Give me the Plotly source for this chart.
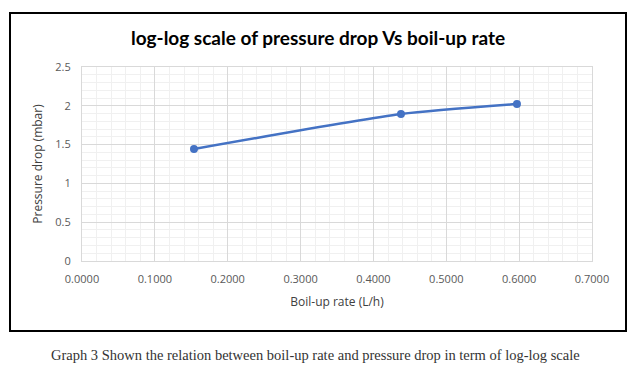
import plotly.graph_objects as go

boilup_rate = [0.1537, 0.4378, 0.5970]
pressure_drop = [1.443, 1.894, 2.023]
x_ticks = [0.0, 0.1, 0.2, 0.3, 0.4, 0.5, 0.6, 0.7]
x_tick_labels = ["0.0000", "0.1000", "0.2000", "0.3000", "0.4000", "0.5000", "0.6000", "0.7000"]
y_ticks = [0, 0.5, 1, 1.5, 2, 2.5]
y_tick_labels = ["0", "0.5", "1", "1.5", "2", "2.5"]

fig = go.Figure()
fig.add_trace(go.Scatter(
    x=boilup_rate, y=pressure_drop, mode="lines+markers",
    line=dict(color="#4472C4", width=2.5, shape="spline", smoothing=0.6),
    marker=dict(color="#4472C4", size=8),
    showlegend=False,
))

OFF = 8  # page body margin
W, H = 636 - 2 * OFF, 372 - 2 * OFF
L, R, T, B = 82 - OFF, W - (592 - OFF), 67 - OFF, H - (261 - OFF)
pw, ph = W - L - R, H - T - B

def px(xp):
    return (xp - OFF - L) / pw

def py(yp):
    return (H - B - (yp - OFF)) / ph

fig.update_layout(
    width=W, height=H,
    margin=dict(l=L, r=R, t=T, b=B),
    paper_bgcolor="white", plot_bgcolor="white",
    font=dict(family="Open Sans, Liberation Sans, sans-serif", color="#595959", size=11),
    title=dict(text="<b>log-log scale of pressure drop Vs boil-up rate</b>",
               x=px(318), xanchor="center", xref="paper",
               y=(H - (38 - OFF)) / H, yanchor="middle",
               font=dict(size=19, color="#000000", family="Lato, Open Sans, sans-serif")),
    xaxis=dict(range=[0, 0.7], tickvals=x_ticks, ticktext=x_tick_labels,
               showgrid=True, gridcolor="#D9D9D9", gridwidth=1,
               minor=dict(dtick=0.02, showgrid=True, gridcolor="#F0F0F0", gridwidth=1),
               zeroline=False, showline=True, linecolor="#D9D9D9", mirror=True,
               ticks="", ticklabelstandoff=8,
               title=dict(text="Boil-up rate (L/h)", font=dict(size=12, color="#404040"), standoff=12)),
    yaxis=dict(range=[0, 2.5], tickvals=y_ticks, ticktext=y_tick_labels,
               showgrid=True, gridcolor="#D9D9D9", gridwidth=1,
               minor=dict(dtick=0.1, showgrid=True, gridcolor="#F0F0F0", gridwidth=1),
               zeroline=False, showline=True, linecolor="#D9D9D9", mirror=True,
               ticks="", ticklabelstandoff=8,
               title=dict(text="Pressure drop (mbar)", font=dict(size=12, color="#404040"), standoff=10)),
)

fig.add_shape(type="rect", xref="paper", yref="paper",
              x0=px(10), x1=px(626), y0=py(331), y1=py(13),
              line=dict(color="#000000", width=2), fillcolor="rgba(0,0,0,0)", layer="above")

fig.add_annotation(text="Graph 3 Shown the relation between boil-up rate and pressure drop in term of log-log scale",
                   xref="paper", yref="paper", x=px(315), y=py(355), xanchor="center", yanchor="middle",
                   showarrow=False, font=dict(family="Liberation Serif, Times New Roman, serif", size=14.5, color="#333333"))

fig.write_html("out.html")
